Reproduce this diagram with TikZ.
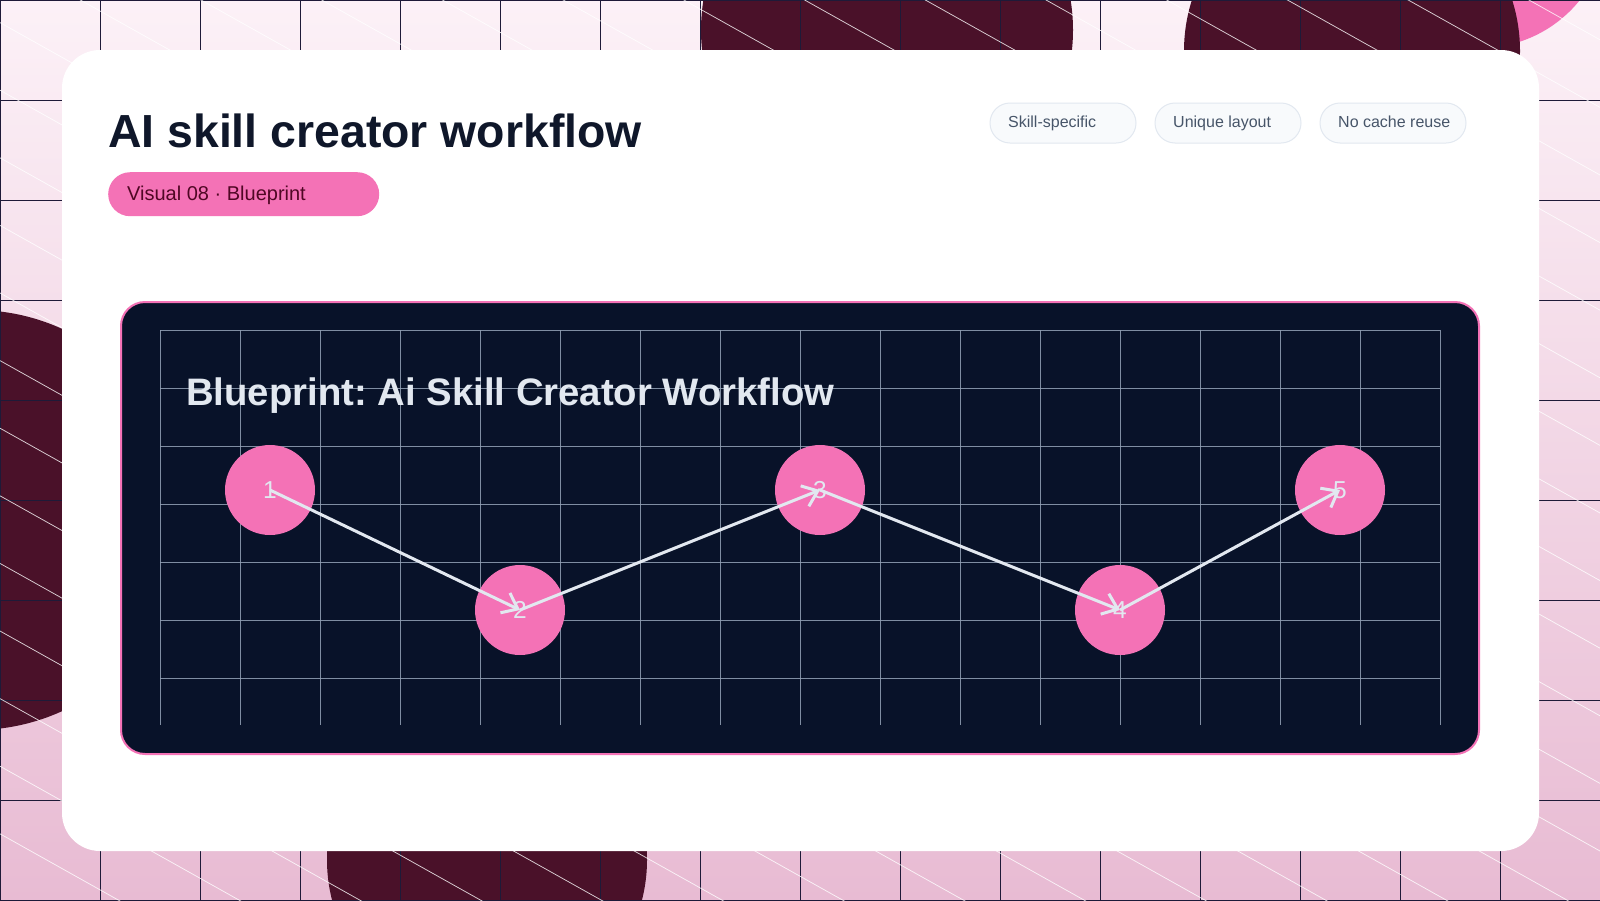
\documentclass[tikz,border=0pt]{standalone}
\usepackage{fontspec}
\setmainfont{Liberation Sans}
\usetikzlibrary{arrows.meta}
\frenchspacing
\definecolor{bgtop}{HTML}{FCF1F7}
\definecolor{bgbot}{HTML}{E8BBD3}
\definecolor{maroon}{HTML}{4A1129}
\definecolor{pinkc}{HTML}{F472B6}
\definecolor{gridbg}{HTML}{1E1A38}
\definecolor{ink}{HTML}{0F172A}
\definecolor{pilltext}{HTML}{500724}
\definecolor{tagfill}{HTML}{F8FAFC}
\definecolor{tagline}{HTML}{E2E8F0}
\definecolor{tagtext}{HTML}{475569}
\definecolor{panel}{HTML}{081229}
\definecolor{bpgrid}{HTML}{94A3B8}
\definecolor{bptext}{HTML}{E2E8F0}
\begin{document}
\begin{tikzpicture}[x=1pt,y=-1pt,
  bgline/.style={gridbg, line width=1pt},
  diag/.style={white, line width=0.75pt, opacity=0.8},
  tagbox/.style={draw=tagline, fill=tagfill, line width=1pt, rounded corners=20pt,
    minimum height=40pt, minimum width=146pt, inner sep=0pt},
  tagtxt/.style={anchor=base west, inner sep=0pt, font=\fontsize{16}{19}\selectfont, text=tagtext},
  bpgridline/.style={bpgrid, line width=0.9pt, opacity=0.85},
  stepdot/.style={circle, fill=pinkc, minimum size=90pt, inner sep=0pt,
    text=bptext, font=\fontsize{24.5}{28}\selectfont},
  flow/.style={draw=bptext, line width=3pt, -{Straight Barb[length=14pt,width=22pt]}}
]
\useasboundingbox (0,0) rectangle (1600,900);
\shade[top color=bgtop, bottom color=bgbot] (0,0) rectangle (1600,900);
\begin{scope}
  \clip (0,0) rectangle (1600,900);
  \fill[pinkc] (1480,-80) circle[radius=128pt];
  \fill[maroon] (887,30) circle[radius=186pt];
  \fill[maroon] (1352,51) circle[radius=168pt];
  \fill[maroon] (-25,520) circle[radius=210pt];
  \fill[maroon] (487,860) circle[radius=160pt];
  \foreach \i in {0,...,16} \draw[bgline] ({100*\i},0) -- ({100*\i},900);
  \foreach \j in {0,...,9} \draw[bgline] (0,{100*\j}) -- (1600,{100*\j});
  \foreach \k in {-18,...,10} \draw[diag] (0,{293+67.6*\k}) -- (1600,{293+67.6*\k+896});
\end{scope}
% card
\fill[white, rounded corners=38pt] (62,50) rectangle (1539,851);
% header
\node[anchor=base west, inner sep=0pt, font=\fontsize{46.4}{55}\selectfont\bfseries, text=ink] (title) at (108,147) {AI skill creator workflow};
\node[fill=pinkc, rounded corners=22pt, minimum width=271pt, minimum height=44pt, anchor=north west, inner sep=0pt] (badge) at (108,172) {};
\node[anchor=base west, inner sep=0pt, font=\fontsize{20}{24}\selectfont, text=pilltext] (badgetext) at (127,200) {Visual 08 · Blueprint};
\node[tagbox] (t1) at (1063,123) {};
\node[tagtxt] (t1t) at (1008,127) {Skill-specific};
\node[tagbox] (t2) at (1228,123) {};
\node[tagtxt] (t2t) at (1173,127) {Unique layout};
\node[tagbox] (t3) at (1393,123) {};
\node[tagtxt] (t3t) at (1338,127) {No cache reuse};
% blueprint panel
\draw[fill=panel, draw=pinkc, line width=2pt, rounded corners=24pt] (121,302) rectangle (1479,754);
\foreach \i in {0,...,16} \draw[bpgridline] ({160+80*\i},330) -- ({160+80*\i},725);
\foreach \j in {0,...,6} \draw[bpgridline] (160,{330+58*\j}) -- (1440,{330+58*\j});
\node[anchor=base west, inner sep=0pt, font=\fontsize{38.3}{46}\selectfont\bfseries, text=bptext] (bptitle) at (186,405) {Blueprint: Ai Skill Creator Workflow};
% steps
\node[stepdot] (n1) at (270,490) {1};
\node[stepdot] (n2) at (520,610) {2};
\node[stepdot] (n3) at (820,490) {3};
\node[stepdot] (n4) at (1120,610) {4};
\node[stepdot] (n5) at (1340,490) {5};
\draw[flow] (n1.center) -- (n2.center);
\draw[flow] (n2.center) -- (n3.center);
\draw[flow] (n3.center) -- (n4.center);
\draw[flow] (n4.center) -- (n5.center);
\end{tikzpicture}
\end{document}
